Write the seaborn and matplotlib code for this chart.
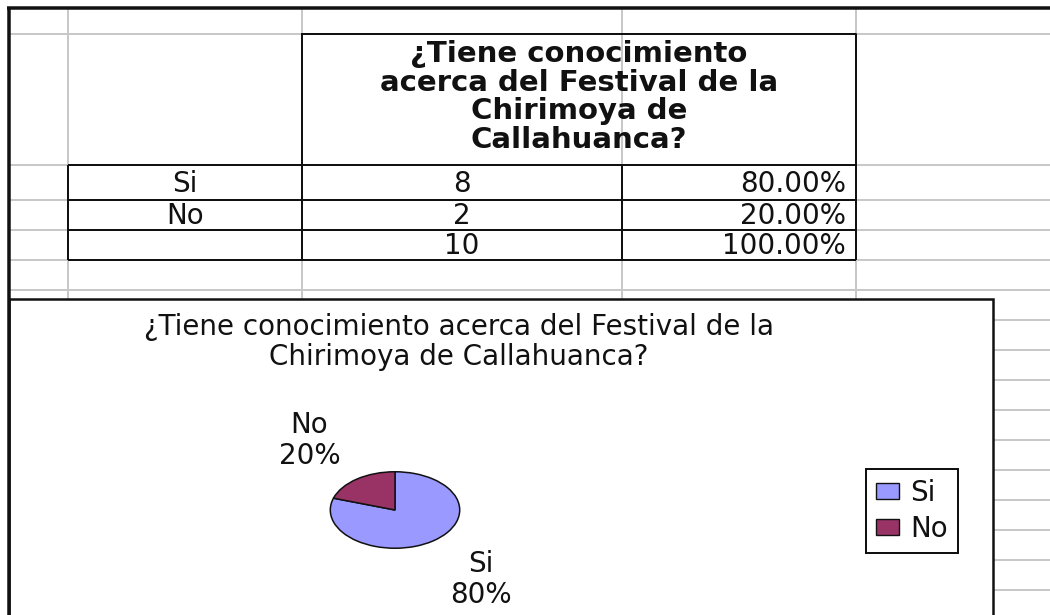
import matplotlib
matplotlib.use("Agg")
import matplotlib.pyplot as plt
from matplotlib.patches import Rectangle, Patch
import seaborn as sns

# Survey answers
header_lines = ["¿Tiene conocimiento", "acerca del Festival de la", "Chirimoya de", "Callahuanca?"]
title_lines = ["¿Tiene conocimiento acerca del Festival de la", "Chirimoya de Callahuanca?"]
answers = ["Si", "No"]
counts = [8, 2]
slice_colors = ["#9999FF", "#993366"]

sns.set_theme(style="white")
plt.rcParams["font.family"] = ["DejaVu Sans"]
palette = sns.color_palette(slice_colors)

W, H = 1050, 615
fig = plt.figure(figsize=(W / 100, H / 100), dpi=100)
fig.patch.set_facecolor("white")

sheet = fig.add_axes([0, 0, 1, 1])
sheet.set_xlim(0, W)
sheet.set_ylim(H, 0)
sheet.axis("off")


def lw(pixels):
    return pixels * 72 / 100


GRID = "#c8c8c8"
INK = "#111111"
FS = 20

# spreadsheet gridlines
col_x = [68, 302, 622, 856]
row_y = [34, 165, 200, 230, 260, 290]
for x in col_x:
    sheet.vlines(x, 9, 299, color=GRID, lw=lw(2), zorder=1)
for y in row_y:
    sheet.hlines(y, 9, W, color=GRID, lw=lw(2), zorder=1)
for y in range(320, H, 30):
    sheet.hlines(y, 993, W, color=GRID, lw=lw(2), zorder=1)

# summary table
total = sum(counts)
row_labels = answers + [""]
row_values = counts + [total]
row_pcts = [c / total * 100 for c in counts] + [100.0]

sheet.plot([302, 856, 856, 302, 302], [34, 34, 165, 165, 34], color=INK, lw=lw(2), zorder=3)
for y in [165, 200, 230, 260]:
    sheet.hlines(y, 68, 856, color=INK, lw=lw(2), zorder=3)
for x in col_x:
    sheet.vlines(x, 165, 260, color=INK, lw=lw(2), zorder=3)

sheet.text(579, 97, "\n".join(header_lines), ha="center", va="center",
           multialignment="center", fontsize=21, fontweight="bold",
           linespacing=1.02, color=INK, zorder=4)

row_edges = [165, 200, 230, 260]
for i in range(3):
    yc = (row_edges[i] + row_edges[i + 1]) / 2 + 1
    sheet.text(185, yc, row_labels[i], ha="center", va="center", fontsize=FS, color=INK)
    sheet.text(462, yc, f"{row_values[i]}", ha="center", va="center", fontsize=FS, color=INK)
    sheet.text(846, yc, f"{row_pcts[i]:.2f}%", ha="right", va="center", fontsize=FS, color=INK)

# chart area
sheet.add_patch(Rectangle((9, 299), 984, 330, facecolor="white", edgecolor=INK,
                          lw=lw(2.5), zorder=5))
# sheet outer frame
sheet.hlines(8, 7, W, color=INK, lw=lw(3.5), zorder=8)
sheet.vlines(8.5, 7, H, color=INK, lw=lw(3.5), zorder=8)

sheet.text(459, 342, "\n".join(title_lines), ha="center", va="center",
           multialignment="center", fontsize=FS, linespacing=1.08, color=INK, zorder=6)

# pie chart (flattened ellipse)
cx, cy, rx, ry = 395, 510, 66, 39
pie_ax = fig.add_axes([(cx - rx) / W, 1 - (cy + ry) / H, 2 * rx / W, 2 * ry / H])
pie_ax.set_facecolor("none")
labels = [f"{a}\n{c / total * 100:.0f}%" for a, c in zip(answers, counts)]
wedges, texts = pie_ax.pie(counts, labels=labels, colors=palette, startangle=90,
                           counterclock=False, labeldistance=2.25,
                           wedgeprops=dict(edgecolor=INK, linewidth=1.1),
                           textprops=dict(fontsize=FS, color=INK))
for t in texts:
    t.set_horizontalalignment("center")
    t.set_verticalalignment("center")
    t.set_multialignment("center")
    t.set_linespacing(1.1)
pie_ax.set_aspect("auto")
pie_ax.set_xlim(-1.02, 1.02)
pie_ax.set_ylim(-1.02, 1.02)
pie_ax.axis("off")

handles = [Patch(facecolor=c, edgecolor=INK, linewidth=1.0) for c in palette]
leg = fig.legend(handles, answers, loc="center", bbox_to_anchor=(912 / W, 1 - 511 / H),
                 fontsize=FS, frameon=True, fancybox=False, framealpha=1,
                 edgecolor=INK, handlelength=0.85, handleheight=0.5,
                 handletextpad=0.4, labelspacing=0.3, borderpad=0.35,
                 borderaxespad=0)
leg.get_frame().set_linewidth(lw(2))
for t in leg.get_texts():
    t.set_color(INK)

fig.savefig("out.png", dpi=100, facecolor="white")
